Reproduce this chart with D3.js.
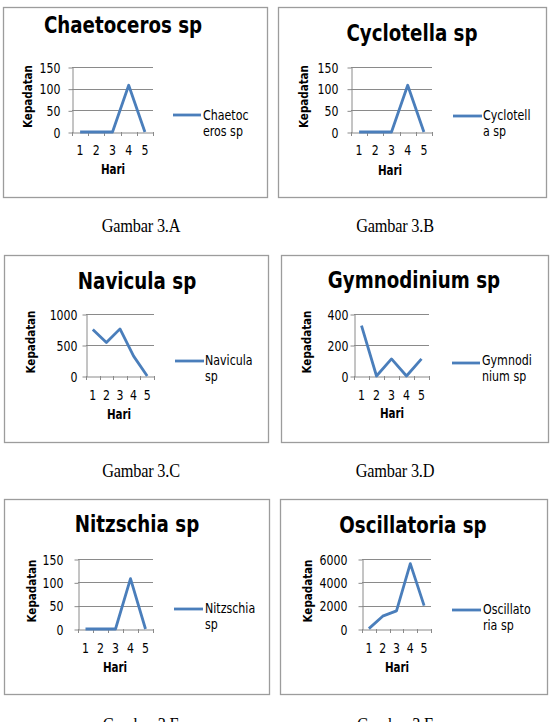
<!DOCTYPE html>
<html>
<head>
<meta charset="utf-8">
<script src="https://cdn.jsdelivr.net/npm/d3@7"></script>
<style>
  body { margin: 0; background: #fff; }
  svg { display: block; }
</style>
</head>
<body>
<svg id="page" width="558" height="722"></svg>
<script>
// ---- data ----
const hari = [1, 2, 3, 4, 5];
const chaetoceros = [0, 0, 0, 108, 0];
const cyclotella = [0, 0, 0, 108, 0];
const navicula = [750, 540, 760, 320, 0];
const gymnodinium = [325, 0, 110, 0, 110];
const nitzschia = [0, 0, 0, 108, 0];
const oscillatoria = [30, 1100, 1550, 5600, 2000];

const ticks150 = [0, 50, 100, 150];
const ticks1000 = [0, 500, 1000];
const ticks400 = [0, 200, 400];
const ticks6000 = [0, 2000, 4000, 6000];

const titles = ["Chaetoceros sp", "Cyclotella sp", "Navicula sp", "Gymnodinium sp", "Nitzschia sp", "Oscillatoria sp"];
const legendLines = [["Chaetoc", "eros sp"], ["Cyclotell", "a sp"], ["Navicula", "sp"], ["Gymnodi", "nium sp"], ["Nitzschia", "sp"], ["Oscillato", "ria sp"]];
const captions = ["Gambar 3.A", "Gambar 3.B", "Gambar 3.C", "Gambar 3.D", "Gambar 3.E", "Gambar 3.F"];

const svg = d3.select("#page");
const BLUE = "#4A7EBB";
const SANS = "'DejaVu Sans Condensed','DejaVu Sans',sans-serif";
const SERIF = "'Liberation Serif','Times New Roman',serif";
const SY = 1.15; // the scanned page is a bit taller than it is wide

// text with the vertical stretch of the source picture
function txt(parent, x, y, str, size, opts = {}) {
  const rot = opts.rotate ? " rotate(-90)" : ` scale(1,${SY})`;
  return parent.append("text")
    .attr("transform", `translate(${x},${y})${rot}`)
    .attr("font-family", opts.family || SANS)
    .attr("font-stretch", "condensed")
    .attr("font-size", size)
    .attr("font-weight", opts.bold ? "bold" : "normal")
    .attr("text-anchor", opts.anchor || "start")
    .attr("fill", "#000")
    .text(str);
}

// ---- layout of the six panels (page pixels) ----
// box: x0,y0,x1,y1   plot: left,right,top,bottom
const layouts = [
  { box: [3, 7, 267, 197],   plot: [72, 153, 67, 132],  title: [123, 33],  yLab: 28,  yEnd: 60,  xBase: 154, hari: [113, 174], leg: [173, 201, 115, 203, 120, 136] },
  { box: [278, 7, 546, 197], plot: [351, 432, 67, 132], title: [412, 41],  yLab: 304, yEnd: 338, xBase: 154, hari: [390, 175], leg: [453, 482, 116, 483, 120, 136] },
  { box: [4, 255, 268, 442], plot: [86, 154, 314, 376], title: [137, 289], yLab: 31,  yEnd: 77,  xBase: 399, hari: [119, 419], leg: [175, 204, 361, 205, 365, 381] },
  { box: [281, 255, 548, 442], plot: [354, 429, 314, 376], title: [414, 288], yLab: 307, yEnd: 348, xBase: 399, hari: [392, 418], leg: [452, 480, 363, 482, 365, 381] },
  { box: [4, 499, 269, 694], plot: [78, 153, 559, 629], title: [137, 532], yLab: 32,  yEnd: 63,  xBase: 652, hari: [115, 672], leg: [174, 203, 609, 205, 613, 629] },
  { box: [280, 499, 547, 694], plot: [362, 431, 559, 629], title: [413, 533], yLab: 308, yEnd: 347, xBase: 652, hari: [397, 672], leg: [452, 481, 610, 483, 614, 630] }
];
const series = [chaetoceros, cyclotella, navicula, gymnodinium, nitzschia, oscillatoria];
const tickSets = [ticks150, ticks150, ticks1000, ticks400, ticks150, ticks6000];
const captionPos = [[141, 232], [395, 232], [141, 477], [395, 477], [141, 731], [395, 731]];

function drawPanel(i) {
  const L = layouts[i], vals = series[i], ticks = tickSets[i];
  const g = svg.append("g");
  const [bx0, by0, bx1, by1] = L.box;
  const [left, right, top, bottom] = L.plot;

  // chart frame
  g.append("rect")
    .attr("x", bx0 + 0.5).attr("y", by0 + 0.5)
    .attr("width", bx1 - bx0).attr("height", by1 - by0)
    .attr("fill", "#fff").attr("stroke", "#9c9c9c").attr("stroke-width", 1.3);

  const x = d3.scaleBand().domain(hari).range([left, right]);
  const y = d3.scaleLinear().domain([0, d3.max(ticks)]).range([bottom, top]);

  // gridlines
  g.selectAll("line.grid").data(ticks.slice(1)).join("line")
    .attr("class", "grid")
    .attr("x1", left).attr("x2", right)
    .attr("y1", d => Math.round(y(d)) + 0.5).attr("y2", d => Math.round(y(d)) + 0.5)
    .attr("stroke", "#8a8a8a").attr("stroke-width", 1);

  // y axis
  const ya = g.append("g")
    .attr("transform", `translate(${left + 0.5},0.5)`)
    .call(d3.axisLeft(y).tickValues(ticks).tickFormat(d3.format("d"))
      .tickSize(4).tickSizeOuter(0).tickPadding(left - L.yEnd - 4));
  ya.select(".domain").attr("stroke", "#8a8a8a");
  ya.selectAll(".tick line").attr("stroke", "#8a8a8a");
  ya.selectAll("text")
    .attr("font-family", SANS).attr("font-stretch", "condensed").attr("font-size", 12.2)
    .attr("fill", "#000").attr("transform", `scale(1,${SY})`);

  // x axis (Excel puts the tick marks between categories)
  const xa = g.append("g")
    .attr("transform", `translate(0,${Math.round(bottom) + 0.5})`)
    .call(d3.axisBottom(x).tickSize(0).tickPadding(0));
  xa.select(".domain").attr("stroke", "#8a8a8a");
  xa.selectAll("text")
    .attr("font-family", SANS).attr("font-stretch", "condensed").attr("font-size", 12.2)
    .attr("fill", "#000")
    .attr("dy", null)
    .attr("y", 0)
    .attr("transform", `translate(0,${L.xBase - Math.round(bottom)}) scale(1,${SY})`);
  g.selectAll("line.xt").data(hari.concat(["end"])).join("line")
    .attr("class", "xt")
    .attr("x1", d => Math.round(d === "end" ? right : x(d)) + 0.5)
    .attr("x2", d => Math.round(d === "end" ? right : x(d)) + 0.5)
    .attr("y1", bottom).attr("y2", bottom + 4)
    .attr("stroke", "#8a8a8a");

  // series line
  const line = d3.line()
    .x((d, j) => x(hari[j]) + x.bandwidth() / 2)
    .y(d => y(d));
  g.append("path").datum(vals)
    .attr("d", line)
    .attr("fill", "none").attr("stroke", BLUE)
    .attr("stroke-width", 2.8).attr("stroke-linejoin", "round");

  // titles
  txt(g, L.title[0], L.title[1], titles[i], 20.3, { bold: true, anchor: "middle" });
  txt(g, L.yLab + 4, (top + bottom) / 2 - 3, "Kepadatan", 11.5, { bold: true, anchor: "middle", rotate: true });
  txt(g, L.hari[0], L.hari[1], "Hari", 11.5, { bold: true, anchor: "middle" });

  // legend
  const [lx0, lx1, ly, tx, t1, t2] = L.leg;
  g.append("line")
    .attr("x1", lx0).attr("x2", lx1).attr("y1", ly).attr("y2", ly)
    .attr("stroke", BLUE).attr("stroke-width", 2.8);
  txt(g, tx, t1, legendLines[i][0], 12.3);
  txt(g, tx, t2, legendLines[i][1], 12.3);

  // caption under the chart
  txt(svg, captionPos[i][0], captionPos[i][1], captions[i], 16.3, { family: SERIF, anchor: "middle" })
    .attr("font-stretch", null).attr("letter-spacing", -0.2);
}

d3.range(6).forEach(drawPanel);
</script>
</body>
</html>
